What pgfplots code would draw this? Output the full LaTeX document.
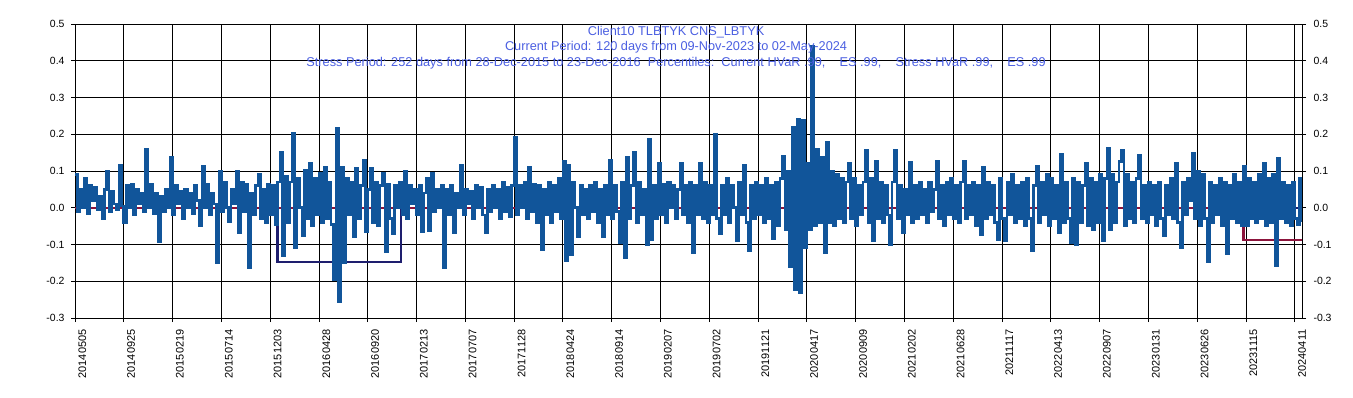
\documentclass[border=0pt]{standalone}
\usepackage{fontspec}
\setmainfont{Liberation Sans}
\usepackage{pgfplots}
\usepackage{pgfplotstable}
\pgfplotsset{compat=1.18}
\definecolor{pnlblue}{RGB}{17,85,154}
\definecolor{hvarred}{RGB}{140,20,60}
\definecolor{stressnavy}{RGB}{30,30,110}
\definecolor{titleblue}{RGB}{75,95,225}
% daily P&L (thousands), one value every 5 trading days
\pgfplotstableread[row sep=\\, header=false]{
0.09\\ -0.01\\ 0.05\\ 0.00\\ 0.08\\ -0.015\\ 0.06\\ 0.02\\ 0.055\\ -0.005\\
0.03\\ -0.03\\ 0.05\\ 0.10\\ -0.01\\ 0.045\\ 0.01\\ -0.005\\ 0.115\\ 0.005\\
-0.04\\ 0.06\\ 0.00\\ 0.065\\ -0.02\\ 0.05\\ 0.01\\ 0.04\\ -0.01\\ 0.158\\
0.00\\ 0.065\\ -0.015\\ 0.04\\ -0.092\\ 0.03\\ -0.01\\ 0.05\\ 0.00\\ 0.138\\
-0.02\\ 0.06\\ 0.01\\ 0.045\\ -0.03\\ 0.05\\ 0.00\\ 0.04\\ -0.015\\ 0.06\\
0.02\\ -0.05\\ 0.113\\ 0.00\\ 0.065\\ -0.02\\ 0.04\\ 0.01\\ -0.149\\ 0.10\\
-0.01\\ 0.07\\ 0.00\\ -0.037\\ 0.05\\ 0.01\\ 0.10\\ -0.068\\ 0.07\\ -0.01\\
0.065\\ -0.163\\ 0.04\\ -0.02\\ 0.06\\ 0.09\\ -0.03\\ 0.05\\ -0.04\\ 0.065\\
-0.02\\ 0.06\\ -0.045\\ 0.07\\ 0.152\\ -0.13\\ 0.085\\ -0.04\\ 0.07\\ 0.203\\
-0.11\\ 0.08\\ 0.00\\ -0.075\\ 0.103\\ -0.03\\ 0.12\\ -0.05\\ 0.08\\ -0.02\\
0.093\\ -0.04\\ 0.11\\ -0.03\\ 0.07\\ -0.045\\ -0.195\\ 0.217\\ -0.255\\ 0.11\\
-0.15\\ 0.08\\ -0.02\\ 0.07\\ -0.08\\ 0.108\\ -0.03\\ 0.06\\ 0.128\\ -0.065\\
0.05\\ 0.108\\ -0.04\\ 0.07\\ -0.05\\ 0.06\\ 0.093\\ -0.12\\ 0.065\\ -0.03\\
-0.07\\ 0.06\\ 0.00\\ 0.07\\ -0.02\\ 0.10\\ -0.03\\ 0.06\\ 0.01\\ 0.05\\
-0.02\\ 0.06\\ -0.065\\ 0.04\\ 0.08\\ -0.062\\ 0.093\\ -0.01\\ 0.05\\ 0.00\\
0.06\\ -0.163\\ 0.05\\ -0.02\\ 0.06\\ -0.069\\ 0.04\\ 0.00\\ 0.115\\ -0.02\\
0.05\\ 0.01\\ 0.045\\ -0.03\\ 0.06\\ 0.00\\ 0.055\\ -0.02\\ -0.068\\ 0.05\\
-0.01\\ 0.06\\ 0.00\\ 0.05\\ -0.03\\ 0.07\\ -0.01\\ 0.055\\ -0.025\\ 0.06\\
0.193\\ -0.02\\ 0.06\\ 0.00\\ 0.07\\ -0.03\\ 0.11\\ -0.01\\ 0.065\\ -0.04\\
0.06\\ -0.114\\ 0.05\\ -0.02\\ 0.07\\ -0.04\\ 0.06\\ -0.01\\ 0.08\\ -0.03\\
0.126\\ -0.143\\ 0.115\\ -0.128\\ 0.07\\ 0.00\\ -0.08\\ 0.06\\ -0.02\\ 0.05\\
-0.03\\ 0.06\\ -0.01\\ 0.07\\ -0.04\\ 0.05\\ -0.08\\ 0.06\\ -0.02\\ 0.128\\
-0.03\\ 0.06\\ -0.01\\ -0.094\\ 0.07\\ -0.135\\ 0.137\\ -0.03\\ 0.06\\ 0.15\\
-0.04\\ 0.07\\ -0.02\\ 0.05\\ -0.10\\ 0.185\\ -0.087\\ 0.06\\ -0.03\\ 0.12\\
-0.02\\ 0.065\\ -0.04\\ 0.07\\ 0.00\\ 0.06\\ -0.03\\ 0.05\\ 0.12\\ -0.02\\
0.06\\ -0.04\\ 0.07\\ -0.123\\ 0.06\\ -0.02\\ 0.12\\ -0.03\\ 0.07\\ -0.04\\
0.06\\ -0.02\\ 0.20\\ -0.03\\ -0.07\\ 0.06\\ -0.02\\ 0.08\\ -0.04\\ 0.06\\
0.00\\ -0.09\\ 0.07\\ -0.02\\ 0.115\\ -0.04\\ -0.117\\ 0.06\\ -0.03\\ 0.07\\
-0.02\\ 0.06\\ -0.04\\ 0.08\\ -0.03\\ 0.06\\ -0.084\\ 0.07\\ -0.05\\ 0.08\\
0.14\\ -0.06\\ 0.10\\ -0.16\\ 0.22\\ -0.223\\ 0.24\\ -0.23\\ 0.238\\ -0.11\\
0.12\\ -0.06\\ 0.44\\ -0.05\\ 0.16\\ -0.04\\ 0.137\\ -0.121\\ 0.179\\ -0.04\\
0.10\\ -0.05\\ 0.09\\ -0.03\\ 0.08\\ -0.04\\ 0.07\\ 0.12\\ -0.03\\ 0.08\\
-0.05\\ 0.06\\ -0.02\\ 0.07\\ 0.155\\ -0.04\\ 0.08\\ -0.09\\ 0.126\\ -0.03\\
0.07\\ -0.04\\ 0.06\\ -0.02\\ -0.10\\ 0.07\\ 0.157\\ -0.03\\ 0.06\\ -0.069\\
0.05\\ -0.02\\ 0.123\\ -0.04\\ 0.06\\ -0.03\\ 0.07\\ -0.02\\ 0.05\\ -0.04\\
0.07\\ -0.01\\ 0.05\\ 0.126\\ -0.03\\ 0.06\\ -0.05\\ 0.07\\ -0.02\\ 0.08\\
-0.03\\ 0.06\\ -0.04\\ 0.07\\ 0.126\\ -0.03\\ 0.06\\ -0.02\\ 0.07\\ -0.05\\
0.06\\ -0.073\\ 0.109\\ -0.03\\ 0.07\\ -0.02\\ 0.06\\ -0.04\\ -0.087\\ 0.08\\
-0.03\\ -0.091\\ 0.07\\ -0.02\\ 0.09\\ -0.04\\ 0.06\\ -0.03\\ 0.07\\ -0.05\\
0.08\\ -0.03\\ -0.118\\ 0.06\\ 0.113\\ -0.04\\ 0.07\\ -0.02\\ 0.09\\ -0.05\\
0.08\\ -0.03\\ 0.06\\ -0.068\\ 0.146\\ -0.04\\ 0.07\\ -0.03\\ -0.096\\ 0.08\\
-0.10\\ 0.07\\ -0.04\\ 0.06\\ 0.12\\ -0.05\\ 0.08\\ -0.06\\ 0.07\\ -0.04\\
0.09\\ -0.091\\ 0.08\\ 0.163\\ -0.06\\ 0.09\\ -0.04\\ 0.07\\ 0.126\\ 0.155\\
-0.05\\ 0.09\\ -0.03\\ 0.07\\ -0.04\\ 0.08\\ 0.143\\ -0.03\\ 0.06\\ -0.04\\
0.07\\ -0.02\\ 0.06\\ -0.05\\ 0.07\\ -0.03\\ -0.076\\ 0.06\\ -0.02\\ 0.08\\
-0.03\\ 0.12\\ -0.04\\ -0.11\\ 0.07\\ -0.02\\ 0.08\\ 0.02\\ 0.147\\ -0.03\\
0.10\\ -0.05\\ 0.09\\ -0.03\\ -0.146\\ 0.07\\ -0.04\\ 0.06\\ -0.02\\ 0.08\\
-0.05\\ 0.07\\ -0.126\\ 0.06\\ -0.03\\ 0.09\\ -0.04\\ 0.07\\ -0.05\\ 0.112\\
-0.05\\ 0.08\\ -0.03\\ 0.07\\ -0.04\\ 0.09\\ -0.03\\ 0.12\\ -0.05\\ 0.08\\
-0.04\\ 0.09\\ -0.158\\ 0.135\\ -0.03\\ 0.07\\ -0.04\\ 0.06\\ -0.05\\ 0.07\\
-0.03\\ -0.047\\ 0.08\\ -0.04\\
}\pnl
\pgfplotsset{
  chartax/.style={
    scale only axis, width=1227bp, height=294bp,
    xmin=0, xmax=2515, ymin=-0.3, ymax=0.5,
    ytick={-0.3,-0.2,-0.1,0,0.1,0.2,0.3,0.4,0.5},
    yticklabels={-0.3,-0.2,-0.1,0.0,0.1,0.2,0.3,0.4,0.5},
    axis line style={black, line width=0.8bp},
    tick style={black, line width=0.8bp},
    tick align=outside, major tick length=4bp,
    /pgf/number format/assume math mode=true,
  }
}
\begin{document}
\begin{tikzpicture}
\begin{axis}[chartax,
  xtick={0,100,...,2500},
  xticklabels={20140505,20140925,20150219,20150714,20151203,20160428,20160920,20170213,20170707,20171128,20180424,20180914,20190207,20190702,20191121,20200417,20200909,20210202,20210628,20211117,20220413,20220907,20230131,20230626,20231115,20240411},
  xticklabel style={font=\fontsize{11}{12}\selectfont, yshift=-4bp, rotate=90, anchor=north east},
  yticklabel style={font=\fontsize{10.5}{12}\selectfont, xshift=-3bp},
  xtick pos=lower, ytick pos=left,
  grid=major, major grid style={black, line width=0.8bp},
]
\addplot[stressnavy, line width=2.4bp, mark=none] coordinates {(0,0) (415,0) (415,-0.147) (668,-0.147) (668,0) (2515,0)};
\addplot[hvarred, line width=2.4bp, mark=none] coordinates {(0,0) (2395,0) (2395,-0.088) (2515,-0.088)};
\addplot[pnlblue, line width=2.6bp, const plot, mark=none] table[x expr=\coordindex*5, y index=0] {\pnl};
\node[anchor=base, text=titleblue, font=\fontsize{12.8}{14}\selectfont] at (axis cs:1232,0.470) {Client10 TLBTYK CNS\_LBTYK};
\node[anchor=base, text=titleblue, font=\fontsize{12.8}{14}\selectfont] at (axis cs:1232,0.4291) {Current Period: 120 days from 09-Nov-2023 to 02-May-2024};
\node[anchor=base, text=titleblue, font=\fontsize{12.8}{14}\selectfont] at (axis cs:1232,0.3856) {Stress Period: 252 days from 28-Dec-2015 to 23-Dec-2016\ \ Percentiles:\ \ Current HVaR .99,\ \ \ \ ES .99,\ \ \ \ Stress HVaR .99,\ \ \ \ ES .99};
\node[xshift=-42bp, rotate=90, font=\fontsize{10.5}{12}\selectfont] at (rel axis cs:0,0.5) {Thousands};
\end{axis}
\begin{axis}[chartax, axis x line=none, axis y line*=right,
  yticklabel style={font=\fontsize{10.5}{12}\selectfont, xshift=4bp}]
\addplot[draw=none] coordinates {(0,0)};
\end{axis}
\pgfresetboundingbox
\useasboundingbox (-75bp,-80bp) rectangle (1278bp,318bp);
\end{tikzpicture}
\end{document}
